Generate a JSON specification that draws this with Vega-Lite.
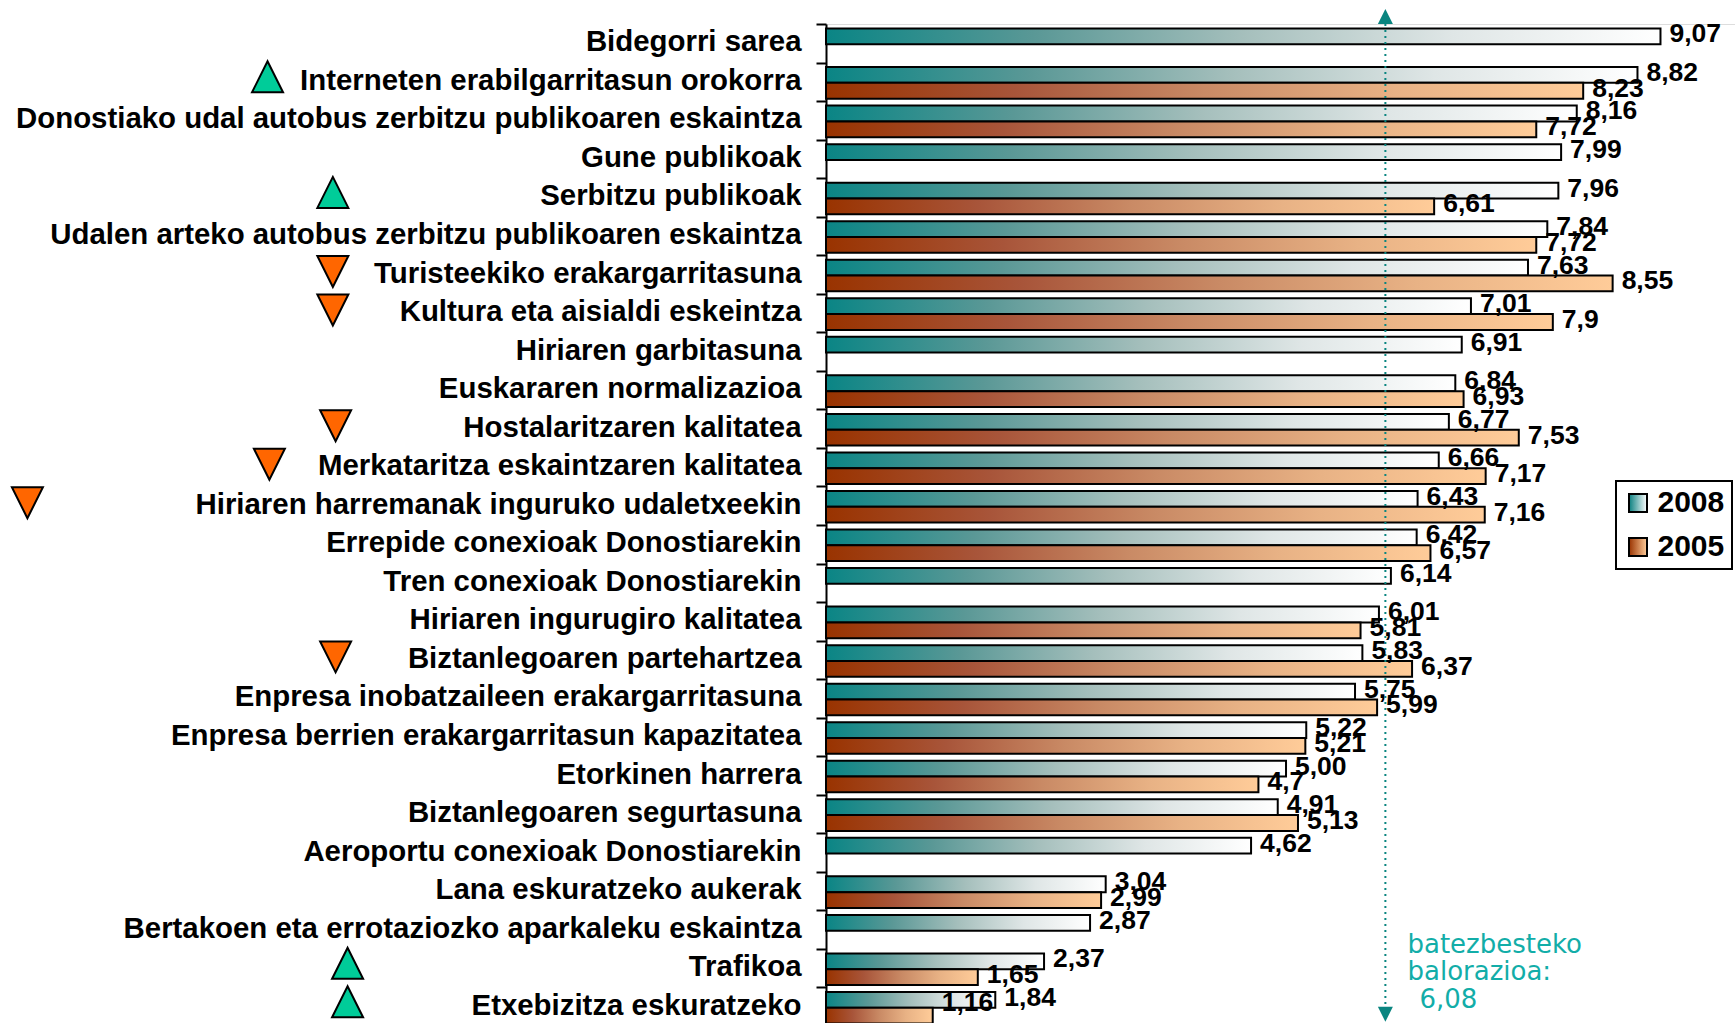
{"$schema":"https://vega.github.io/schema/vega-lite/v6.json","width":909,"height":1002,"autosize":{"type":"none"},"padding":{"left":826,"top":24,"right":0,"bottom":-3},"background":"white","datasets":{"bars":[
{"category":"Bidegorri sarea","year":"2008","value":9.07,"label":"9,07"},
{"category":"Interneten erabilgarritasun orokorra","year":"2008","value":8.82,"label":"8,82"},
{"category":"Interneten erabilgarritasun orokorra","year":"2005","value":8.23,"label":"8,23"},
{"category":"Donostiako udal autobus zerbitzu publikoaren eskaintza","year":"2008","value":8.16,"label":"8,16"},
{"category":"Donostiako udal autobus zerbitzu publikoaren eskaintza","year":"2005","value":7.72,"label":"7,72"},
{"category":"Gune publikoak\u00a0","year":"2008","value":7.99,"label":"7,99"},
{"category":"Serbitzu publikoak","year":"2008","value":7.96,"label":"7,96"},
{"category":"Serbitzu publikoak","year":"2005","value":6.61,"label":"6,61"},
{"category":"Udalen arteko autobus zerbitzu publikoaren eskaintza","year":"2008","value":7.84,"label":"7,84"},
{"category":"Udalen arteko autobus zerbitzu publikoaren eskaintza","year":"2005","value":7.72,"label":"7,72"},
{"category":"Turisteekiko erakargarritasuna","year":"2008","value":7.63,"label":"7,63"},
{"category":"Turisteekiko erakargarritasuna","year":"2005","value":8.55,"label":"8,55"},
{"category":"Kultura eta aisialdi eskeintza","year":"2008","value":7.01,"label":"7,01"},
{"category":"Kultura eta aisialdi eskeintza","year":"2005","value":7.9,"label":"7,9"},
{"category":"Hiriaren garbitasuna","year":"2008","value":6.91,"label":"6,91"},
{"category":"Euskararen normalizazioa","year":"2008","value":6.84,"label":"6,84"},
{"category":"Euskararen normalizazioa","year":"2005","value":6.93,"label":"6,93"},
{"category":"Hostalaritzaren kalitatea","year":"2008","value":6.77,"label":"6,77"},
{"category":"Hostalaritzaren kalitatea","year":"2005","value":7.53,"label":"7,53"},
{"category":"Merkataritza eskaintzaren kalitatea","year":"2008","value":6.66,"label":"6,66"},
{"category":"Merkataritza eskaintzaren kalitatea","year":"2005","value":7.17,"label":"7,17"},
{"category":"Hiriaren harremanak inguruko udaletxeekin","year":"2008","value":6.43,"label":"6,43"},
{"category":"Hiriaren harremanak inguruko udaletxeekin","year":"2005","value":7.16,"label":"7,16"},
{"category":"Errepide conexioak Donostiarekin","year":"2008","value":6.42,"label":"6,42"},
{"category":"Errepide conexioak Donostiarekin","year":"2005","value":6.57,"label":"6,57"},
{"category":"Tren conexioak Donostiarekin","year":"2008","value":6.14,"label":"6,14"},
{"category":"Hiriaren ingurugiro kalitatea","year":"2008","value":6.01,"label":"6,01"},
{"category":"Hiriaren ingurugiro kalitatea","year":"2005","value":5.81,"label":"5,81"},
{"category":"Biztanlegoaren partehartzea","year":"2008","value":5.83,"label":"5,83"},
{"category":"Biztanlegoaren partehartzea","year":"2005","value":6.37,"label":"6,37"},
{"category":"Enpresa inobatzaileen erakargarritasuna","year":"2008","value":5.75,"label":"5,75"},
{"category":"Enpresa inobatzaileen erakargarritasuna","year":"2005","value":5.99,"label":"5,99"},
{"category":"Enpresa berrien erakargarritasun kapazitatea\u00a0","year":"2008","value":5.22,"label":"5,22"},
{"category":"Enpresa berrien erakargarritasun kapazitatea\u00a0","year":"2005","value":5.21,"label":"5,21"},
{"category":"Etorkinen harrera","year":"2008","value":5.0,"label":"5,00"},
{"category":"Etorkinen harrera","year":"2005","value":4.7,"label":"4,7"},
{"category":"Biztanlegoaren segurtasuna","year":"2008","value":4.91,"label":"4,91"},
{"category":"Biztanlegoaren segurtasuna","year":"2005","value":5.13,"label":"5,13"},
{"category":"Aeroportu conexioak Donostiarekin","year":"2008","value":4.62,"label":"4,62"},
{"category":"Lana eskuratzeko aukerak","year":"2008","value":3.04,"label":"3,04"},
{"category":"Lana eskuratzeko aukerak","year":"2005","value":2.99,"label":"2,99"},
{"category":"Bertakoen eta errotaziozko aparkaleku eskaintza","year":"2008","value":2.87,"label":"2,87"},
{"category":"Trafikoa","year":"2008","value":2.37,"label":"2,37"},
{"category":"Trafikoa","year":"2005","value":1.65,"label":"1,65"},
{"category":"Etxebizitza eskuratzeko\u00a0","year":"2008","value":1.84,"label":"1,84"},
{"category":"Etxebizitza eskuratzeko\u00a0","year":"2005","value":1.16,"label":"1,16"}
],"up":[
{"category":"Interneten erabilgarritasun orokorra","pos":-6.07},
{"category":"Serbitzu publikoak","pos":-5.36},
{"category":"Trafikoa","pos":-5.2},
{"category":"Etxebizitza eskuratzeko\u00a0","pos":-5.2}
],"down":[
{"category":"Turisteekiko erakargarritasuna","pos":-5.36},
{"category":"Kultura eta aisialdi eskeintza","pos":-5.36},
{"category":"Hostalaritzaren kalitatea","pos":-5.33},
{"category":"Merkataritza eskaintzaren kalitatea","pos":-6.05},
{"category":"Hiriaren harremanak inguruko udaletxeekin","pos":-8.68},
{"category":"Biztanlegoaren partehartzea","pos":-5.33}
]},
"encoding":{
"y":{"field":"category","type":"nominal","title":null,"scale":{"paddingInner":0,"paddingOuter":0,"domain":["Bidegorri sarea","Interneten erabilgarritasun orokorra","Donostiako udal autobus zerbitzu publikoaren eskaintza","Gune publikoak\u00a0","Serbitzu publikoak","Udalen arteko autobus zerbitzu publikoaren eskaintza","Turisteekiko erakargarritasuna","Kultura eta aisialdi eskeintza","Hiriaren garbitasuna","Euskararen normalizazioa","Hostalaritzaren kalitatea","Merkataritza eskaintzaren kalitatea","Hiriaren harremanak inguruko udaletxeekin","Errepide conexioak Donostiarekin","Tren conexioak Donostiarekin","Hiriaren ingurugiro kalitatea","Biztanlegoaren partehartzea","Enpresa inobatzaileen erakargarritasuna","Enpresa berrien erakargarritasun kapazitatea\u00a0","Etorkinen harrera","Biztanlegoaren segurtasuna","Aeroportu conexioak Donostiarekin","Lana eskuratzeko aukerak","Bertakoen eta errotaziozko aparkaleku eskaintza","Trafikoa","Etxebizitza eskuratzeko\u00a0"]},
"axis":{"tickBand":"extent","tickSize":10,"tickWidth":2,"tickColor":"black","domainColor":"black","domainWidth":2,"labelPadding":15,"labelOffset":-1.5,"labelFont":"Liberation Sans","labelFontWeight":"bold","labelFontSize":29.4,"labelColor":"black","labelLimit":0,"grid":false}},
"x":{"type":"quantitative","title":null,"axis":null,"scale":{"domain":[0,9.88],"nice":false,"zero":false}},
"yOffset":{"field":"year","sort":["2008","2005"],"scale":{"domain":["2008","2005"],"paddingInner":0,"paddingOuter":0.22,"align":0.65}}
},
"layer":[
{"data":{"name":"bars"},"transform":[{"filter":"datum.year === '2008'"}],"mark":{"type":"bar","stroke":"black","strokeWidth":2,"fill":{"gradient":"linear","x1":0,"x2":1,"y1":0,"y2":0,"stops":[{"offset":0,"color":"#0a8585"},{"offset":0.25,"color":"#5a9896"},{"offset":0.5,"color":"#a5bfbc"},{"offset":0.75,"color":"#dfe6e6"},{"offset":1,"color":"#ffffff"}]}},"encoding":{"x":{"field":"value","type":"quantitative"}}},
{"data":{"name":"bars"},"transform":[{"filter":"datum.year === '2005'"}],"mark":{"type":"bar","stroke":"black","strokeWidth":2,"fill":{"gradient":"linear","x1":0,"x2":1,"y1":0,"y2":0,"stops":[{"offset":0,"color":"#993300"},{"offset":0.25,"color":"#a8553a"},{"offset":0.5,"color":"#c98a65"},{"offset":0.75,"color":"#e8b285"},{"offset":1,"color":"#ffcc99"}]}},"encoding":{"x":{"field":"value","type":"quantitative"}}},
{"data":{"name":"bars"},"mark":{"type":"point","opacity":0,"filled":true},"encoding":{
"x":{"field":"value","type":"quantitative"},
"shape":{"field":"year","type":"nominal","scale":{"domain":["2008","2005"],"range":["square","square"]},
"legend":{"title":null,"orient":"none","legendX":790,"legendY":457,"strokeColor":"black","fillColor":"white","padding":7,"symbolOffset":0,"symbolSize":324,"symbolStrokeWidth":2,"symbolOpacity":1,"labelFont":"Liberation Sans","labelFontWeight":"bold","labelFontSize":30,"labelColor":"black","rowPadding":14,"labelOffset":4.5,
"encoding":{"legend":{"strokeWidth":{"value":2}},"symbols":{"opacity":{"value":1},"stroke":{"value":"black"},"fill":{"value":{"signal":"datum.value === '2008' ? {gradient:'linear',x1:0,x2:1,y1:0,y2:0,stops:[{offset:0,color:'#0a8080'},{offset:1,color:'#ffffff'}]} : {gradient:'linear',x1:0,x2:1,y1:0,y2:0,stops:[{offset:0,color:'#993300'},{offset:1,color:'#ffcc99'}]}"}}}}}}
}},
{"data":{"values":[{"mean":6.08}]},"mark":{"type":"rule","stroke":"#0a8580","strokeWidth":2,"strokeDash":[2,4]},"encoding":{"x":{"field":"mean","type":"quantitative"},"y":{"value":0},"y2":{"value":990},"yOffset":null}},
{"data":{"values":[{"category":"Bidegorri sarea","mean":6.08}]},"mark":{"type":"point","filled":true,"fill":"#0a8580","strokeWidth":0,"opacity":1,"shape":"M-1,1L1,1L0,-1Z","size":225,"yOffset":-26.8},"encoding":{"x":{"field":"mean","type":"quantitative"},"yOffset":null}},
{"data":{"values":[{"category":"Etxebizitza eskuratzeko\u00a0","mean":6.08}]},"mark":{"type":"point","filled":true,"fill":"#0a8580","strokeWidth":0,"opacity":1,"shape":"M-1,-1L1,-1L0,1Z","size":225,"yOffset":7.5},"encoding":{"x":{"field":"mean","type":"quantitative"},"yOffset":null}},
{"data":{"name":"bars"},"transform":[{"filter":"datum.label !== '1,16'"}],"mark":{"type":"text","align":"left","baseline":"middle","dx":9,"dy":-2,"font":"Liberation Sans","fontWeight":"bold","fontSize":26.5,"color":"black"},"encoding":{
"x":{"field":"value","type":"quantitative"},
"text":{"field":"label"}}},
{"data":{"name":"bars"},"transform":[{"filter":"datum.label === '1,16'"}],"mark":{"type":"text","align":"left","baseline":"middle","dx":9,"dy":-13,"font":"Liberation Sans","fontWeight":"bold","fontSize":26.5,"color":"black"},"encoding":{
"x":{"field":"value","type":"quantitative"},
"text":{"field":"label"}}},
{"data":{"name":"up"},"mark":{"type":"point","filled":true,"fill":"#00cc99","stroke":"black","strokeWidth":2,"opacity":1,"shape":"M-1,1L1,1L0,-1Z","size":961,"yOffset":-5},"encoding":{"x":{"field":"pos","type":"quantitative"},"yOffset":null}},
{"data":{"name":"down"},"mark":{"type":"point","filled":true,"fill":"#ff6600","stroke":"black","strokeWidth":2,"opacity":1,"shape":"M-1,-1L1,-1L0,1Z","size":961,"yOffset":-3},"encoding":{"x":{"field":"pos","type":"quantitative"},"yOffset":null}},
{"data":{"values":[{"category":"Trafikoa","pos":6.32,"note":"batezbesteko\nbalorazioa:"}]},"mark":{"type":"text","align":"left","baseline":"top","lineBreak":"\n","lineHeight":27,"font":"DejaVu Sans","fontSize":26,"color":"#12ada8","yOffset":-36},"encoding":{"x":{"field":"pos","type":"quantitative"},"text":{"field":"note"},"yOffset":null}},
{"data":{"values":[{"category":"Etxebizitza eskuratzeko\u00a0","pos":6.45,"note":"6,08"}]},"mark":{"type":"text","align":"left","baseline":"middle","font":"DejaVu Sans","fontSize":26,"color":"#12ada8","yOffset":-7},"encoding":{"x":{"field":"pos","type":"quantitative"},"text":{"field":"note"},"yOffset":null}}
]}
